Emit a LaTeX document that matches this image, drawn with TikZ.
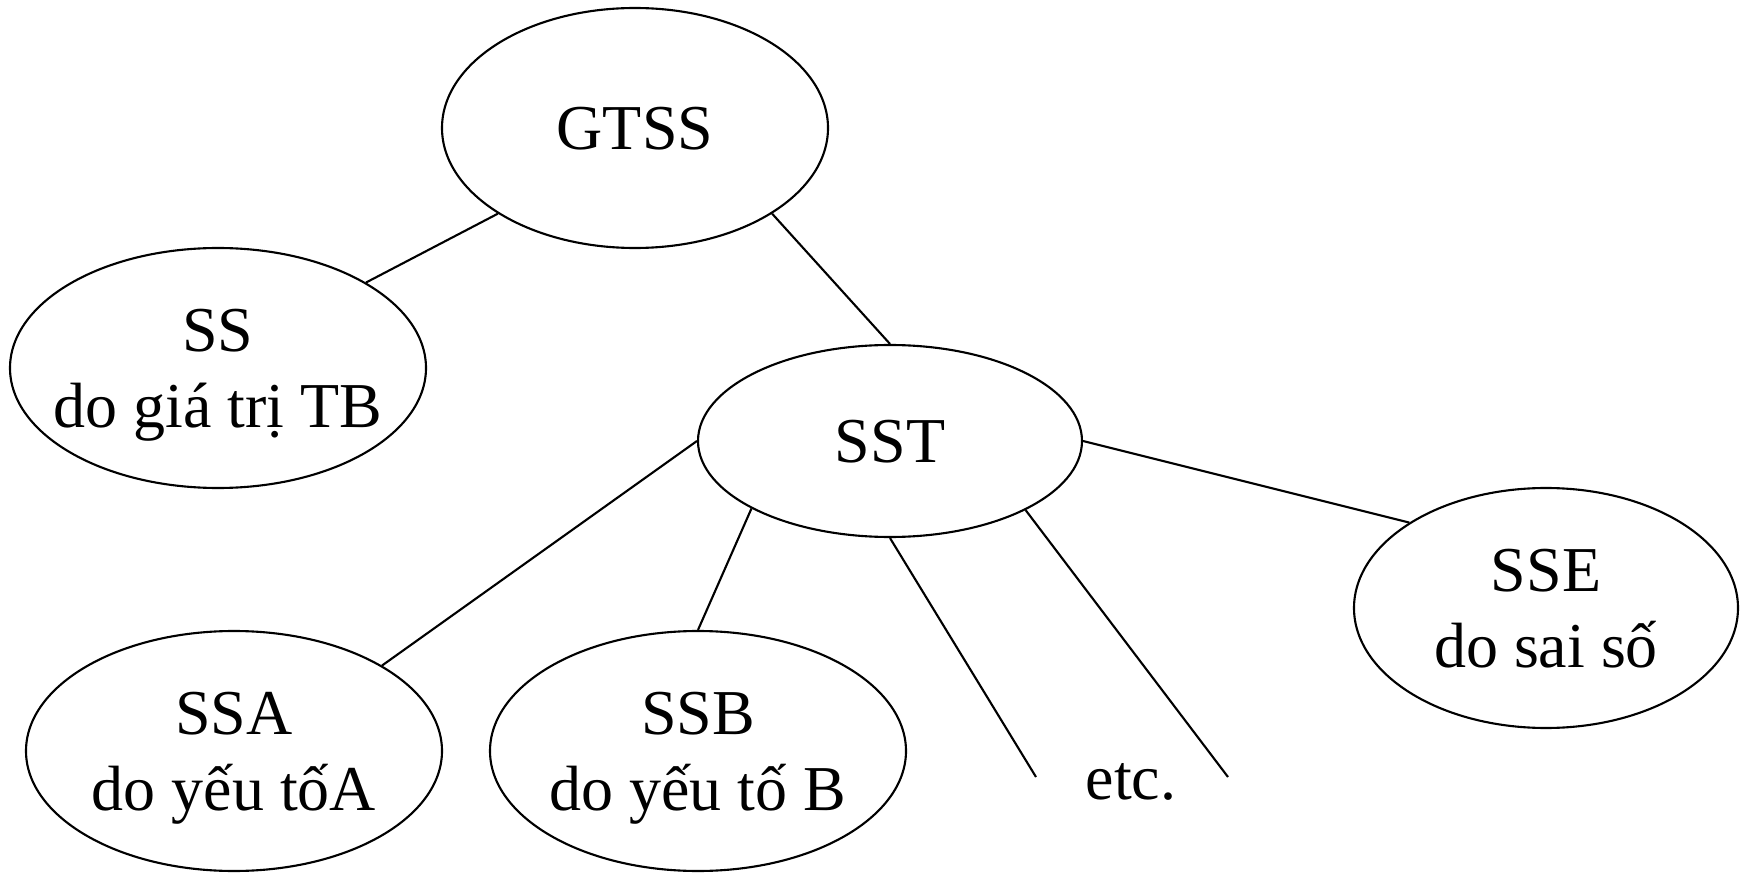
\documentclass[tikz,border=0pt]{standalone}
\usepackage{fontspec}
\setmainfont{Liberation Serif}
\usetikzlibrary{shapes.geometric}
\begin{document}
\begin{tikzpicture}[x=0.1mm,y=-0.1mm,line width=0.6pt,
  txt/.style={font=\fontsize{18.2pt}{21.6pt}\selectfont},
  oval/.style={txt,draw,ellipse,inner xsep=-6mm,inner ysep=-3mm,align=center,text depth=0pt}]

  \useasboundingbox (0,0) rectangle (1747,874);
  \node[oval,minimum width=38.6mm,minimum height=24mm] at (635,128) (gtss) {GTSS};
  \node[oval,minimum width=41.6mm,minimum height=24mm] at (218,368) (ss) {SS\\do giá trị TB};
  \node[oval,minimum width=38.4mm,minimum height=19.2mm] at (890,441) (sst) {SST};
  \node[oval,minimum width=41.6mm,minimum height=24mm] at (234,751) (ssa) {SSA\\do yếu tốA};
  \node[oval,minimum width=41.6mm,minimum height=24mm] at (698,751) (ssb) {SSB\\do yếu tố B};
  \node[oval,minimum width=38.4mm,minimum height=24mm] at (1546,608) (sse) {SSE\\do sai số};
  \node[txt] at (1131,782) (etc) {etc.};
  \coordinate (e1) at (1036,777);
  \coordinate (e2) at (1228,777);

  \draw (gtss.212)--(ss.30);
  \draw (gtss.328)--(sst.north);
  \draw (sst.west)--(ssa.30);
  \draw (sst.206)--(ssb.north);
  \draw (sst.south)--(e1);
  \draw (sst.333)--(e2);
  \draw (sst.east)--(sse.148);
\end{tikzpicture}
\end{document}
